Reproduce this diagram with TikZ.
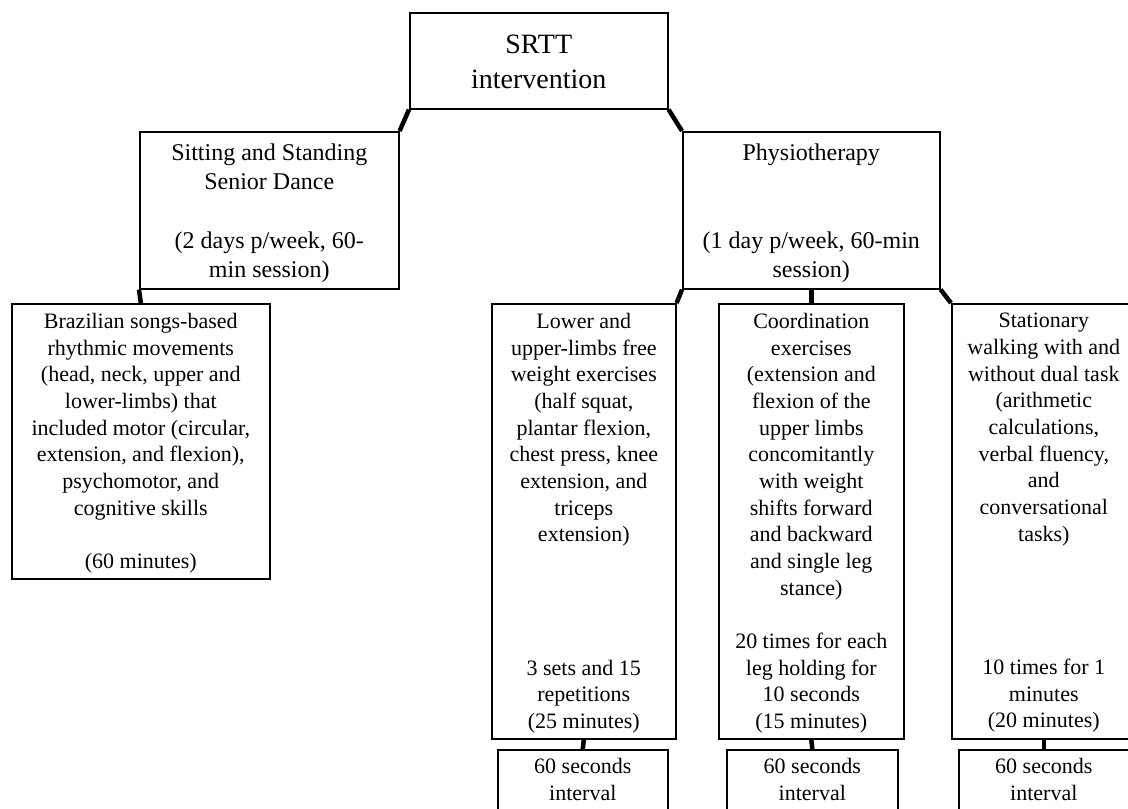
\documentclass[tikz,border=0pt]{standalone}
\usepackage{fontspec}
\setmainfont{Liberation Serif}
\usepackage{tikz}

\tikzset{
  box/.style={draw, line width=1.6pt, inner sep=0pt, anchor=north west},
  txtL/.style={anchor=north, align=center, inner sep=0pt,
    font=\fontsize{28}{35}\selectfont},
  txtM/.style={anchor=north, align=center, inner sep=0pt,
    font=\fontsize{24}{29.3}\selectfont},
  txtS/.style={anchor=north, align=center, inner sep=0pt,
    font=\fontsize{22}{26.67}\selectfont},
  link/.style={line width=4.5pt}
}

\begin{document}
\begin{tikzpicture}[x=1pt,y=-1pt]

\useasboundingbox (0,0) rectangle (1128,809);
\fill[white] (0,0) rectangle (1128,809);
\clip (0,0) rectangle (1128,809);

%--------------------
% top level
%--------------------
\node[box, minimum width=258pt, minimum height=96pt] (srtt) at (409,12) {};
\node[txtL] (srtt-t) at ([yshift=-22.5pt]srtt.north)
  {SRTT\\intervention};

%--------------------
% second level
%--------------------
\node[box, minimum width=259pt, minimum height=157pt] (dance) at (139,131) {};
\node[txtM] (dance-t) at ([yshift=-12.6pt]dance.north)
  {Sitting and Standing\\Senior Dance\\~\\(2 days p/week, 60-\\min session)};

\node[box, minimum width=257pt, minimum height=157pt] (physio) at (682,131) {};
\node[txtM] (physio-t) at ([yshift=-12.6pt]physio.north)
  {Physiotherapy\\~\\~\\(1 day p/week, 60-min\\session)};

%--------------------
% third level
%--------------------
\node[box, minimum width=258pt, minimum height=275pt] (songs) at (11,303) {};
\node[txtS] (songs-t) at ([yshift=-10pt]songs.north)
  {Brazilian songs-based\\rhythmic movements\\(head, neck, upper and\\
   lower-limbs) that\\included motor (circular,\\extension, and flexion),\\
   psychomotor, and\\cognitive skills\\~\\(60 minutes)};

\node[box, minimum width=184pt, minimum height=435pt] (limbs) at (491,303) {};
\node[txtS] (limbs-t) at ([yshift=-10pt]limbs.north)
  {Lower and\\upper-limbs free\\weight exercises\\(half squat,\\
   plantar flexion,\\chest press, knee\\extension, and\\triceps\\extension)\\
   ~\\~\\~\\~\\3 sets and 15\\repetitions\\(25 minutes)};

\node[box, minimum width=185pt, minimum height=435pt] (coord) at (718,303) {};
\node[txtS] (coord-t) at ([yshift=-10pt]coord.north)
  {Coordination\\exercises\\(extension and\\flexion of the\\upper limbs\\
   concomitantly\\with weight\\shifts forward\\and backward\\and single leg\\
   stance)\\~\\20 times for each\\leg holding for\\10 seconds\\(15 minutes)};

\node[box, minimum width=184pt, minimum height=435pt] (walk) at (951,303) {};
\node[txtS] (walk-t) at ([yshift=-10pt]walk.north)
  {Stationary\\walking with and\\without dual task\\(arithmetic\\
   calculations,\\verbal fluency,\\and\\conversational\\tasks)\\
   ~\\~\\~\\~\\10 times for 1\\minutes\\(20 minutes)};

%--------------------
% intervals
%--------------------
\node[box, minimum width=170pt, minimum height=90pt] (rest1) at (497,749) {};
\node[txtS] (rest1-t) at ([yshift=-9pt]rest1.north) {60 seconds\\interval};

\node[box, minimum width=171pt, minimum height=90pt] (rest2) at (726,749) {};
\node[txtS] (rest2-t) at ([yshift=-9pt]rest2.north) {60 seconds\\interval};

\node[box, minimum width=170pt, minimum height=90pt] (rest3) at (958,749) {};
\node[txtS] (rest3-t) at ([yshift=-9pt]rest3.north) {60 seconds\\interval};

%--------------------
% connectors
%--------------------
\draw[link] (srtt.south west) -- (dance.north east);
\draw[link] (srtt.south east) -- (physio.north west);
\draw[link] (dance.south west) -- (songs.north);
\draw[link] (physio.south west) -- (limbs.north east);
\draw[link] (physio.south) -- (coord.north);
\draw[link] (physio.south east) -- (walk.north west);
\draw[link] (limbs.south) -- (rest1.north);
\draw[link] (coord.south) -- (rest2.north);
\draw[link] (walk.south) -- (rest3.north);

\end{tikzpicture}
\end{document}
